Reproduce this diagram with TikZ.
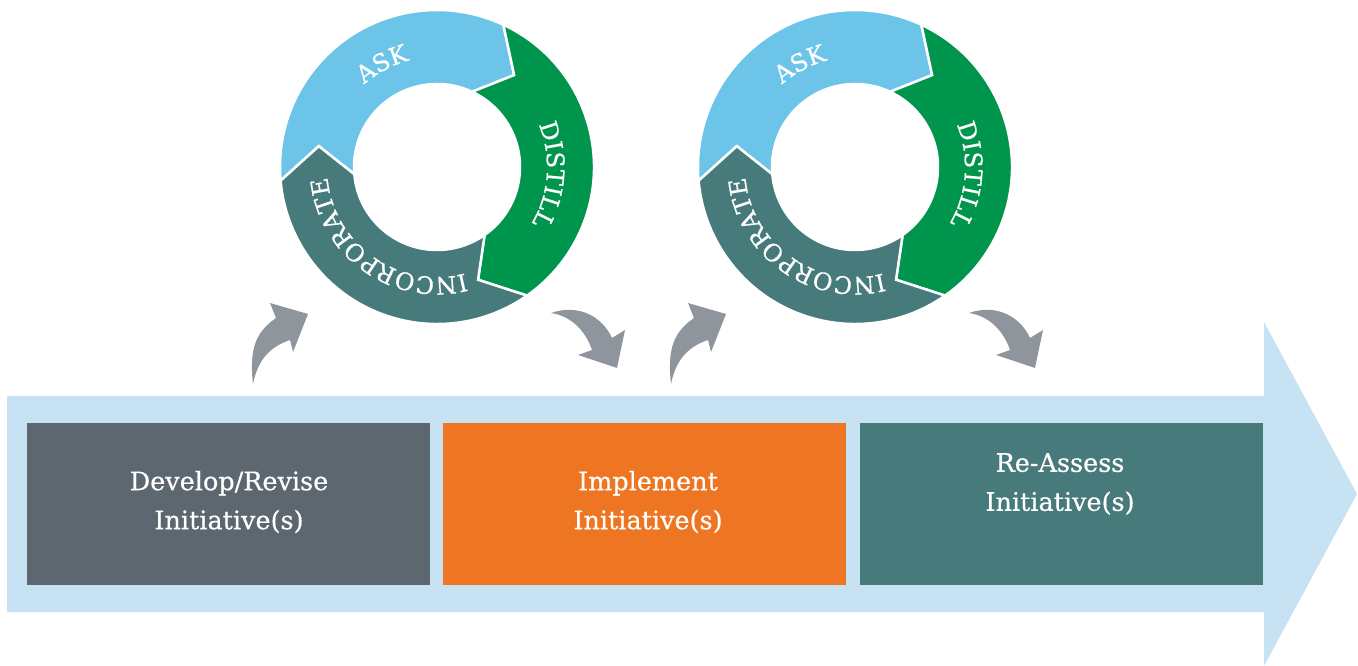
\documentclass[tikz,border=0pt]{standalone}
\usepackage{fontspec}
\setmainfont{DejaVu Serif}[FakeBold=0.5]
\usetikzlibrary{decorations.text}
\definecolor{askc}{HTML}{6CC4E8}
\definecolor{distc}{HTML}{00954C}
\definecolor{incc}{HTML}{477A7B}
\definecolor{bandc}{HTML}{C7E3F3}
\definecolor{boxgray}{HTML}{5C6770}
\definecolor{boxorange}{HTML}{EE7623}
\definecolor{boxteal}{HTML}{477A7B}
\definecolor{arrowgray}{HTML}{8F959C}
\tikzset{
  stagebox/.style={rectangle, inner sep=0pt, minimum width=403pt, minimum height=162pt},
  stagetext/.style={text=white, align=center, inner sep=0pt, font=\fontsize{25.5}{39}\selectfont},
  ringseg/.style={draw=white, line width=2.5pt, line join=miter},
  ringlabel/.style={decorate, decoration={text along path, text align=center, text color=white,
      text={|\fontsize{24}{28}\selectfont|#1}}},
  bendarrow/.style={fill=arrowgray},
  cycle ring/.pic={
    \begin{scope}[y=1pt]
      \fill[askc, ringseg] (185:157) arc[start angle=185, end angle=65, radius=157] -- (50:120)
        -- (65:83) arc[start angle=65, end angle=185, radius=83] -- (170:120) -- cycle;
      \fill[distc, ringseg] (65:157) arc[start angle=65, end angle=-55, radius=157] -- (-70:120)
        -- (-55:83) arc[start angle=-55, end angle=65, radius=83] -- (50:120) -- cycle;
      \fill[incc, ringseg] (-55:157) arc[start angle=-55, end angle=-175, radius=157] -- (-190:120)
        -- (-175:83) arc[start angle=-175, end angle=-55, radius=83] -- (-70:120) -- cycle;
      \path[ringlabel=ASK] (198:110) arc[start angle=198, end angle=38, radius=110];
      \path[ringlabel=DISTILL] (76:110) arc[start angle=76, end angle=-84, radius=110];
      \path[ringlabel=INCORPORATE] (-45:110) arc[start angle=-45, end angle=-205, radius=110];
    \end{scope}
  },
  up arrow/.pic={
    \fill[bendarrow] (0,0) .. controls (-4,-36) and (3,-52) .. (23,-66) -- (17,-81) -- (55,-70)
      -- (40,-32) -- (37,-44) .. controls (19,-38) and (5,-26) .. (0,0) -- cycle;
  },
  down arrow/.pic={
    \fill[bendarrow] (0,0) .. controls (29,-10) and (52,5) .. (61,25) -- (74,17) -- (66,55)
      -- (27,42) -- (41,37) .. controls (35,19) and (21,3) .. (0,0) -- cycle;
  }
}
\begin{document}
\begin{tikzpicture}[x=1pt, y=-1pt]
  \fill[white] (0,0) rectangle (1358,666);
  \useasboundingbox (0,0) rectangle (1358,666);
  % timeline band
  \fill[bandc] (7,396) -- (1264,396) -- (1264,322) -- (1357,494) -- (1264,666)
    -- (1264,612) -- (7,612) -- cycle;
  % stage boxes
  \node[stagebox, fill=boxgray] (s1) at (228.5,504) {};
  \node[stagebox, fill=boxorange] (s2) at (644.5,504) {};
  \node[stagebox, fill=boxteal] (s3) at (1061.5,504) {};
  \node[stagetext] (t1) at (229,502) {Develop/Revise\\Initiative(s)};
  \node[stagetext] (t2) at (648,502) {Implement\\Initiative(s)};
  \node[stagetext] (t3) at (1060,484) {Re-Assess\\Initiative(s)};
  % cycle rings
  \pic (r1) at (437,167) {cycle ring};
  \pic (r2) at (855,167) {cycle ring};
  % curved arrows
  \pic (a1) at (253,384) {up arrow};
  \pic (a2) at (551,313) {down arrow};
  \pic (a3) at (671,384) {up arrow};
  \pic (a4) at (969,313) {down arrow};
\end{tikzpicture}
\end{document}
